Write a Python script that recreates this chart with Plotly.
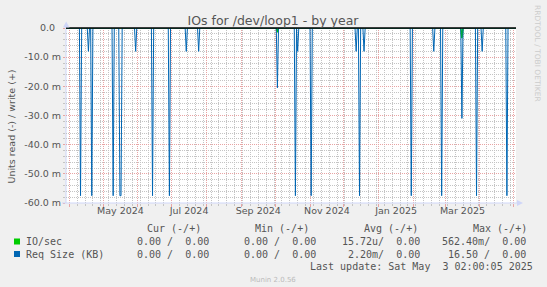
import pandas as pd
import plotly.graph_objects as go

# ---------------- data ----------------
x_start = "2024-03-29 02:00"
x_end = "2025-05-03 02:00"

req_spike_dates = [
    "2024-04-11", "2024-04-18", "2024-04-21", "2024-05-10", "2024-05-16", "2024-05-17",
    "2024-05-30", "2024-06-14", "2024-06-29", "2024-07-14", "2024-07-25", "2024-10-03",
    "2024-10-19", "2024-10-21", "2024-11-02", "2024-12-12", "2024-12-15", "2024-12-19",
    "2025-01-30", "2025-02-19", "2025-02-26", "2025-03-16", "2025-03-29", "2025-04-03",
    "2025-04-25",
]
req_spike_values = [
    -0.0575, -0.008, -0.0575, -0.0575, -0.0575, -0.0575,
    -0.008, -0.0575, -0.0575, -0.008, -0.008, -0.0205,
    -0.0575, -0.008, -0.0575, -0.008, -0.0575, -0.008,
    -0.0575, -0.008, -0.0575, -0.031, -0.0575, -0.008,
    -0.0575,
]
io_spike_dates = ["2024-10-03", "2025-03-16"]
io_spike_values = [-0.0015, -0.0035]

y_tick_vals = [0, -0.01, -0.02, -0.03, -0.04, -0.05, -0.06]
y_tick_text = ["0.0\u00a0\u00a0", "-10.0 m", "-20.0 m", "-30.0 m", "-40.0 m", "-50.0 m", "-60.0 m"]

x_label_vals = ["2024-05-16 12:00", "2024-07-16 12:00", "2024-09-16 00:00",
                "2024-11-16 00:00", "2025-01-16 12:00", "2025-03-16 12:00"]
x_label_text = ["May 2024", "Jul 2024", "Sep 2024", "Nov 2024", "Jan 2025", "Mar 2025"]

legend_names = ["IO/sec", "Req Size (KB)"]
legend_colors = ["#00cc00", "#0066b3"]
headers = ["Cur (-/+)", "Min (-/+)", "Avg (-/+)", "Max (-/+)"]
row_values = [
    ["0.00 /  0.00", "0.00 /  0.00", "15.72u/  0.00", "562.40m/  0.00"],
    ["0.00 /  0.00", "0.00 /  0.00", "2.20m/  0.00", "16.50 /  0.00"],
]
last_update = "Last update: Sat May  3 02:00:05 2025"

# daily series (zero baseline with the spikes)
days = pd.date_range("2024-03-29", "2025-05-03", freq="D")
req = pd.Series(0.0, index=days)
req.loc[pd.to_datetime(req_spike_dates)] = req_spike_values
io = pd.Series(0.0, index=days)
io.loc[pd.to_datetime(io_spike_dates)] = io_spike_values

# ---------------- geometry helpers ----------------
L, R, T, B = 66, 516, 28, 203
W, H = R - L, B - T


def px(x):
    return (x - L) / W


def py(y):
    return (B - y) / H


def nb(s):
    return s.replace(" ", "\u00a0")


FONT = "DejaVu Sans"
MONO = "DejaVu Sans Mono"
TXT = "#555555"

fig = go.Figure()
fig.add_trace(go.Scatter(x=io.index, y=io.values, mode="lines",
                         line=dict(color=legend_colors[0], width=1.6), showlegend=False,
                         hoverinfo="skip"))
fig.add_trace(go.Scatter(x=req.index, y=req.values, mode="lines",
                         line=dict(color=legend_colors[1], width=1), showlegend=False,
                         hoverinfo="skip"))
fig.add_trace(go.Scatter(x=[], y=[], xaxis="x2", showlegend=False))

major_grid = "#e8a4a4"
minor_grid = "#c4c4c4"

fig.update_layout(
    width=547, height=287,
    margin=dict(l=L, r=547 - R, t=T, b=287 - B),
    paper_bgcolor="#f0f0f0", plot_bgcolor="#ffffff",
    showlegend=False,
    title=dict(text="IOs for /dev/loop1 - by year", x=273 / 547, xanchor="center",
               y=1 - 20.5 / 287, yanchor="middle",
               font=dict(family=FONT, size=12.5, color=TXT)),
    xaxis=dict(range=[x_start, x_end], type="date", showticklabels=False,
               tickmode="linear", tick0="2024-04-01", dtick="M1",
               showgrid=True, gridcolor=major_grid, griddash="1px,1px", gridwidth=1,
               ticks="outside", ticklen=3, tickcolor=major_grid,
               minor=dict(tick0="2024-04-01", dtick=7 * 86400000, showgrid=True,
                          gridcolor=minor_grid, griddash="1px,1px", gridwidth=1,
                          ticks="outside", ticklen=2, tickcolor=minor_grid),
               showline=False, zeroline=False, fixedrange=True),
    xaxis2=dict(range=[x_start, x_end], type="date", overlaying="x", anchor="y", side="bottom",
                tickmode="array", tickvals=x_label_vals, ticktext=x_label_text,
                showgrid=False, ticks="", showline=False, zeroline=False,
                tickfont=dict(family=FONT, size=9.5, color=TXT)),
    yaxis=dict(range=[-0.06, 0], tickmode="array", tickvals=y_tick_vals, ticktext=y_tick_text,
               showgrid=True, gridcolor=major_grid, griddash="1px,1px", gridwidth=1,
               ticks="outside", ticklen=2, tickcolor=major_grid,
               minor=dict(tickmode="linear", tick0=0, dtick=0.002, showgrid=True,
                          gridcolor=minor_grid, griddash="1px,1px", gridwidth=1,
                          ticks="outside", ticklen=2, tickcolor=minor_grid),
               tickfont=dict(family=FONT, size=9.5, color=TXT),
               showline=False, zeroline=False, fixedrange=True),
)

axis_col = "#cfd6f8"
shapes = [
    # zero rule
    dict(type="line", xref="paper", yref="paper", x0=0, x1=1, y0=1, y1=1,
         line=dict(color="#000000", width=1.5), layer="above"),
    # axis lines
    dict(type="line", xref="paper", yref="paper", x0=px(66), x1=px(66), y0=py(B), y1=py(24),
         line=dict(color=axis_col, width=1), layer="below"),
    dict(type="line", xref="paper", yref="paper", x0=px(62), x1=px(520), y0=py(B), y1=py(B),
         line=dict(color=axis_col, width=1), layer="above"),
    # arrows
    dict(type="path", xref="paper", yref="paper",
         path=f"M {px(63)},{py(27.5)} L {px(69.5)},{py(27.5)} L {px(66.2)},{py(21.5)} Z",
         fillcolor=axis_col, line=dict(width=0)),
    dict(type="path", xref="paper", yref="paper",
         path=f"M {px(517)},{py(200)} L {px(517)},{py(206)} L {px(523)},{py(203)} Z",
         fillcolor=axis_col, line=dict(width=0)),
]
# legend squares
for i, c in enumerate(legend_colors):
    yc = [241.5, 254][i]
    shapes.append(dict(type="rect", xref="paper", yref="paper",
                       x0=px(14), x1=px(20), y0=py(yc + 3), y1=py(yc - 3),
                       fillcolor=c, line=dict(width=0)))
fig.update_layout(shapes=shapes)

ann = []


def add_text(text, x, y, font, size, color, xanchor="left", angle=0):
    ann.append(dict(text=nb(text), x=px(x), y=py(y), xref="paper", yref="paper",
                    xanchor=xanchor, yanchor="middle", showarrow=False, textangle=angle,
                    borderpad=0, borderwidth=0,
                    font=dict(family=font, size=size, color=color)))


add_text("Units read (-) / write (+)", 11, 126.5, FONT, 9.5, TXT, xanchor="center", angle=-90)
add_text("RRDTOOL / TOBI OETIKER", 538, 53, FONT, 7.5, "#cccccc", xanchor="center", angle=90)

header_x = [147, 255, 364, 473]
for h, hx in zip(headers, header_x):
    add_text(h, hx, 228.6, MONO, 10, TXT)

row_y = [241.5, 254]
cell_right = [209.3, 315.8, 420.4, 526.1]
for name, vals, yy in zip(legend_names, row_values, row_y):
    add_text(name, 26, yy, MONO, 10, TXT)
    for v, rx in zip(vals, cell_right):
        add_text(v, rx, yy, MONO, 10, TXT, xanchor="right")

add_text(last_update, 532.7, 266.3, MONO, 10, TXT, xanchor="right")
add_text("Munin 2.0.56", 273, 280, FONT, 7, "#bbbbbb", xanchor="center")

fig.update_layout(annotations=ann)

fig.write_html("out.html")
